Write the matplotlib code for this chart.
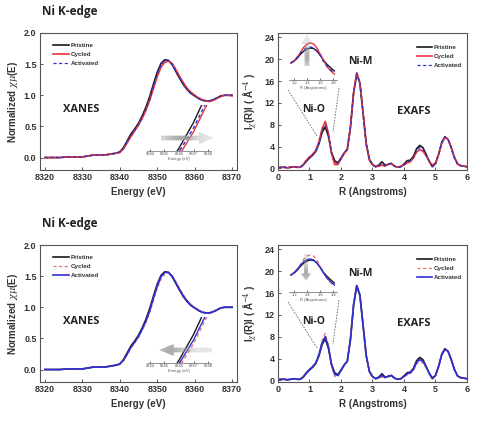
import numpy as np
import matplotlib
matplotlib.use("Agg")
import matplotlib.pyplot as plt
from matplotlib.lines import Line2D
from matplotlib.patches import Polygon

# ---------------- data ----------------
energy = [8320, 8322, 8324, 8326, 8328, 8330, 8331, 8332, 8333, 8334, 8335, 8336, 8337, 8338, 8339,
          8340, 8341, 8342, 8343, 8344, 8345, 8346, 8347, 8348, 8349, 8350, 8351, 8352, 8353, 8354,
          8355, 8356, 8357, 8358, 8359, 8360, 8361, 8362, 8363, 8364, 8365, 8366, 8367, 8368, 8369, 8370]
mu_pristine = [0.00, 0.00, 0.00, 0.01, 0.01, 0.01, 0.02, 0.03, 0.04, 0.04, 0.04, 0.04, 0.05, 0.06, 0.07,
               0.09, 0.16, 0.27, 0.38, 0.46, 0.55, 0.67, 0.81, 0.98, 1.18, 1.37, 1.51, 1.57, 1.56, 1.49,
               1.38, 1.27, 1.17, 1.09, 1.03, 0.99, 0.95, 0.92, 0.91, 0.91, 0.93, 0.96, 0.99, 1.00, 1.00, 1.00]
mu_cycled = [0.00, 0.00, 0.00, 0.01, 0.01, 0.01, 0.02, 0.03, 0.04, 0.04, 0.04, 0.04, 0.05, 0.06, 0.07,
             0.08, 0.14, 0.24, 0.34, 0.43, 0.52, 0.63, 0.76, 0.92, 1.11, 1.30, 1.45, 1.53, 1.55, 1.51,
             1.41, 1.30, 1.20, 1.11, 1.05, 1.00, 0.96, 0.93, 0.91, 0.90, 0.92, 0.95, 0.98, 1.00, 1.00, 0.99]
mu_activated = [0.00, 0.00, 0.00, 0.01, 0.01, 0.01, 0.02, 0.03, 0.04, 0.04, 0.04, 0.04, 0.05, 0.06, 0.07,
                0.09, 0.15, 0.25, 0.36, 0.44, 0.53, 0.65, 0.78, 0.94, 1.15, 1.34, 1.49, 1.56, 1.56, 1.50,
                1.39, 1.28, 1.18, 1.10, 1.03, 0.99, 0.95, 0.92, 0.91, 0.91, 0.93, 0.96, 0.99, 1.00, 1.00, 1.00]

r = [0.0, 0.1, 0.2, 0.3, 0.4, 0.5, 0.6, 0.7, 0.8, 0.9, 1.0, 1.1, 1.2, 1.3, 1.4, 1.5, 1.6, 1.7, 1.8, 1.9,
     2.0, 2.1, 2.2, 2.3, 2.4, 2.5, 2.6, 2.7, 2.8, 2.9, 3.0, 3.1, 3.2, 3.3, 3.4, 3.5, 3.6, 3.7, 3.8, 3.9,
     4.0, 4.1, 4.2, 4.3, 4.4, 4.5, 4.6, 4.7, 4.8, 4.9, 5.0, 5.1, 5.2, 5.3, 5.4, 5.5, 5.6, 5.7, 5.8, 5.9, 6.0]
ft_pristine = [0.1, 0.2, 0.2, 0.1, 0.2, 0.3, 0.2, 0.2, 0.6, 1.3, 1.9, 2.4, 3.1, 4.5, 6.6, 7.6, 5.9, 2.9, 1.4, 1.0,
               1.9, 2.8, 3.5, 7.5, 13.8, 17.3, 15.6, 10.2, 4.6, 1.7, 0.7, 0.3, 0.6, 1.2, 0.6, 0.7, 0.9, 0.4, 0.2, 0.3,
               0.8, 1.4, 1.5, 2.2, 3.6, 4.2, 3.8, 2.6, 1.3, 0.3, 0.9, 2.6, 4.8, 5.8, 5.3, 3.8, 2.0, 0.8, 0.5, 0.4, 0.3]
ft_cycled = [0.1, 0.2, 0.2, 0.1, 0.2, 0.3, 0.2, 0.2, 0.7, 1.5, 2.1, 2.6, 3.3, 4.9, 7.3, 8.6, 6.5, 2.7, 0.7, 0.7,
             1.7, 2.7, 3.4, 7.6, 14.0, 17.5, 15.7, 10.1, 4.4, 1.5, 0.6, 0.3, 0.4, 0.6, 0.4, 0.8, 0.9, 0.4, 0.2, 0.4,
             0.6, 1.0, 1.2, 1.9, 3.0, 3.4, 3.2, 2.3, 1.3, 0.6, 1.0, 2.5, 4.6, 5.7, 5.3, 3.8, 2.0, 0.8, 0.5, 0.4, 0.3]
ft_activated = [0.1, 0.2, 0.2, 0.1, 0.2, 0.3, 0.2, 0.2, 0.6, 1.4, 2.0, 2.5, 3.2, 4.7, 6.9, 8.0, 6.2, 2.8, 1.1, 0.9,
                1.8, 2.8, 3.5, 7.5, 13.9, 17.4, 15.6, 10.1, 4.5, 1.6, 0.7, 0.3, 0.5, 0.9, 0.5, 0.8, 0.9, 0.4, 0.2, 0.3,
                0.7, 1.2, 1.4, 2.0, 3.3, 3.8, 3.5, 2.5, 1.3, 0.4, 0.9, 2.6, 4.7, 5.7, 5.3, 3.8, 2.0, 0.8, 0.5, 0.4, 0.3]

# zoomed Ni-O peak shown in the EXAFS insets (arbitrary units)
r_zoom = [1.15, 1.2, 1.25, 1.3, 1.35, 1.4, 1.45, 1.5, 1.55, 1.6, 1.65, 1.7, 1.75, 1.8, 1.82]
zoom_pristine = [17, 19, 22, 26, 29, 31, 32, 31.5, 29, 25, 20, 16, 13, 10, 9]
zoom_cycled = [17, 19.5, 23, 28, 33, 36, 37, 36, 32, 26, 20, 14, 10, 7, 6]
zoom_activated = [17, 19.5, 23, 27, 30.5, 32.5, 33, 32, 29, 24.5, 19, 14.5, 11, 8, 7]

labels = ["Pristine", "Cycled", "Activated"]
xanes_ticks = [8320, 8330, 8340, 8350, 8360, 8370]
exafs_ticks = [0, 1, 2, 3, 4, 5, 6]

# ---------------- styling ----------------
W, H = 485, 421
BLACK = "#1a1a1a"
RED = "#e8323c"
BLUE = "#2f2fd8"
PINK = "#e07a6a"
TXT = "#333333"
plt.rcParams["font.family"] = ["Liberation Sans", "DejaVu Sans"]
plt.rcParams["mathtext.fontset"] = "dejavuserif"

fig = plt.figure(figsize=(W / 100, H / 100), dpi=100)


def px(x0, y0, x1, y1):
    return [x0 / W, 1 - y1 / H, (x1 - x0) / W, (y1 - y0) / H]


def style_main(ax):
    for s in ax.spines.values():
        s.set_color("#555555")
        s.set_linewidth(0.8)
    ax.tick_params(direction="in", length=2.5, width=0.7, colors="#555555",
                   labelcolor=TXT, labelsize=6.5, pad=2.5)
    for lab in ax.get_xticklabels() + ax.get_yticklabels():
        lab.set_fontweight("bold")


def gradient_arrow(rect, direction, dark_start):
    a = fig.add_axes(px(*rect))
    a.set_axis_off()
    a.set_xlim(0, 1)
    a.set_ylim(0, 1)
    pts = np.array([[0, 0.3], [0.72, 0.3], [0.72, 0.0], [1, 0.5], [0.72, 1.0], [0.72, 0.7], [0, 0.7]])
    if direction == "left":
        pts[:, 0] = 1 - pts[:, 0]
    elif direction in ("up", "down"):
        pts = pts[:, ::-1].copy()
        if direction == "down":
            pts[:, 1] = 1 - pts[:, 1]
    poly = Polygon(pts, closed=True, facecolor="none", edgecolor="none")
    a.add_patch(poly)
    g = np.linspace(0, 1, 64)
    alpha = 0.25 + 0.6 * np.exp(-((g - dark_start) / 0.3) ** 2)
    rgba = np.zeros((1, 64, 4)) if direction in ("left", "right") else np.zeros((64, 1, 4))
    rgba[..., :3] = 0.62
    rgba[..., 3] = alpha.reshape(rgba.shape[:2])
    im = a.imshow(rgba, extent=(0, 1, 0, 1), aspect="auto", origin="lower", interpolation="bilinear")
    im.set_clip_path(poly)


def xanes_panel(y0, styles, arrow_dir):
    ax = fig.add_axes(px(40, y0, 237, y0 + 137))
    series = [mu_pristine, mu_cycled, mu_activated]
    for data, lab, st in zip(series, labels, styles):
        ax.plot(energy, data, label=lab, **st)
    ax.set_xlim(8318.7, 8371.3)
    ax.set_ylim(-0.2, 2.0)
    ax.set_xticks(xanes_ticks)
    ax.set_yticks([0.0, 0.5, 1.0, 1.5, 2.0])
    ax.set_yticklabels(["0.0", "0.5", "1.0", "1.5", "2.0"])
    style_main(ax)
    ax.set_xlabel("Energy (eV)", fontsize=7, fontweight="bold", color=TXT, labelpad=3)
    ax.set_ylabel(r"Normalized $\chi\mu$(E)", fontsize=7, fontweight="bold", color=TXT, labelpad=3)
    ax.text(0.21, 0.445, "XANES", transform=ax.transAxes, ha="center", va="center",
            fontsize=8, fontweight="bold", color="#222222", family="Open Sans")
    ax.legend(loc="upper left", bbox_to_anchor=(0.05, 0.95), frameon=False, fontsize=4.5,
              handlelength=2.6, handletextpad=0.3, labelspacing=0.55, borderpad=0,
              labelcolor=TXT, prop={"weight": "bold", "size": 4.5})
    fig.text(42 / W, 1 - (y0 - 21) / H, "Ni K-edge", fontsize=8.5, fontweight="bold",
             family="Open Sans", color="#222222", va="center")

    # inset zoom on the edge
    ins = fig.add_axes(px(147, y0 + 72, 211, y0 + 118))
    ins.patch.set_alpha(0)
    for data, st in zip(series, styles):
        ins.plot(energy, data, **dict(st, lw=1.0))
    ins.set_xlim(8343.8, 8348.2)
    ins.set_ylim(0.655, 0.905)
    for s in ["top", "left", "right"]:
        ins.spines[s].set_visible(False)
    ins.spines["bottom"].set_color("#666666")
    ins.spines["bottom"].set_linewidth(0.5)
    ins.set_yticks([])
    ins.set_xticks([8344, 8345, 8346, 8347, 8348])
    ins.tick_params(axis="x", direction="in", length=1.5, width=0.4, labelsize=3,
                    labelcolor="#555555", pad=1)
    ins.set_xlabel("Energy (eV)", fontsize=3, color="#555555", labelpad=0.5)
    if arrow_dir == "right":
        gradient_arrow((161, y0 + 99, 214, y0 + 111), "right", 0.35)
    else:
        gradient_arrow((159, y0 + 99, 212, y0 + 111), "left", 0.2)


def exafs_panel(y0, styles, arrow_dir):
    ax = fig.add_axes(px(278, y0, 467, y0 + 137))
    series = [ft_pristine, ft_cycled, ft_activated]
    for data, lab, st in zip(series, labels, styles):
        ax.plot(r, data, label=lab, **st)
    ax.set_xlim(0, 6)
    ax.set_ylim(-0.3, 24.8)
    ax.set_xticks(exafs_ticks)
    ax.set_yticks([0, 4, 8, 12, 16, 20, 24])
    style_main(ax)
    ax.set_xlabel("R (Angstroms)", fontsize=7, fontweight="bold", color=TXT, labelpad=3)
    ax.set_ylabel("I$_\\chi$(R)I ( Å$^{-4}$ )", fontsize=7, fontweight="bold", color=TXT, labelpad=3)
    ax.text(0.19, 0.44, "Ni-O", transform=ax.transAxes, ha="center", va="center",
            fontsize=7.5, fontweight="bold", color="#222222", family="Open Sans")
    ax.text(0.435, 0.79, "Ni-M", transform=ax.transAxes, ha="center", va="center",
            fontsize=7.5, fontweight="bold", color="#222222", family="Open Sans")
    ax.text(0.72, 0.43, "EXAFS", transform=ax.transAxes, ha="center", va="center",
            fontsize=8, fontweight="bold", color="#222222", family="Open Sans")
    ax.legend(loc="upper left", bbox_to_anchor=(0.72, 0.935), frameon=False,
              handlelength=2.3, handletextpad=0.3, labelspacing=0.55, borderpad=0,
              labelcolor=TXT, prop={"weight": "bold", "size": 4.5})

    ins = fig.add_axes(px(289, y0 + 2, 337, y0 + 47))
    ins.patch.set_alpha(0)
    zs = [zoom_pristine, zoom_cycled, zoom_activated]
    if arrow_dir == "up":
        gradient_arrow((301, y0 + 2, 313, y0 + 33), "up", 0.3)
    else:
        gradient_arrow((301, y0 + 9, 311, y0 + 36), "down", 0.3)
    for data, st in zip(zs, styles):
        ins.plot(r_zoom, data, **dict(st, lw=1.0))
    ins.set_xlim(1.12, 1.86)
    ins.set_ylim(0, 45)
    for s in ["top", "left", "right"]:
        ins.spines[s].set_visible(False)
    ins.spines["bottom"].set_color("#666666")
    ins.spines["bottom"].set_linewidth(0.5)
    ins.set_yticks([])
    ins.set_xticks([1.2, 1.4, 1.6, 1.8])
    ins.tick_params(axis="x", direction="in", length=1.5, width=0.4, labelsize=3,
                    labelcolor="#555555", pad=1)
    ins.set_xlabel("R (Angstroms)", fontsize=3, color="#555555", labelpad=0.5)

    # dashed guides from the inset down to the Ni-O peak
    for (xa, ya, xb, yb) in [(288, y0 + 57, 317, y0 + 103), (339, y0 + 55, 333, y0 + 99)]:
        fig.add_artist(Line2D([xa / W, xb / W], [1 - ya / H, 1 - yb / H], color="#666666",
                              lw=0.6, ls=(0, (2, 1.5))))


top_styles = [dict(color=BLACK, lw=1.2), dict(color=RED, lw=1.2),
              dict(color=BLUE, lw=0.9, ls=(0, (2.5, 2)))]
bottom_styles = [dict(color=BLACK, lw=1.2), dict(color=PINK, lw=0.9, ls=(0, (2.5, 2))),
                 dict(color=BLUE, lw=1.2)]

xanes_panel(33, top_styles, "right")
exafs_panel(33, top_styles, "up")
xanes_panel(245, bottom_styles, "left")
exafs_panel(245, bottom_styles, "down")

fig.savefig("out.png", dpi=100)
